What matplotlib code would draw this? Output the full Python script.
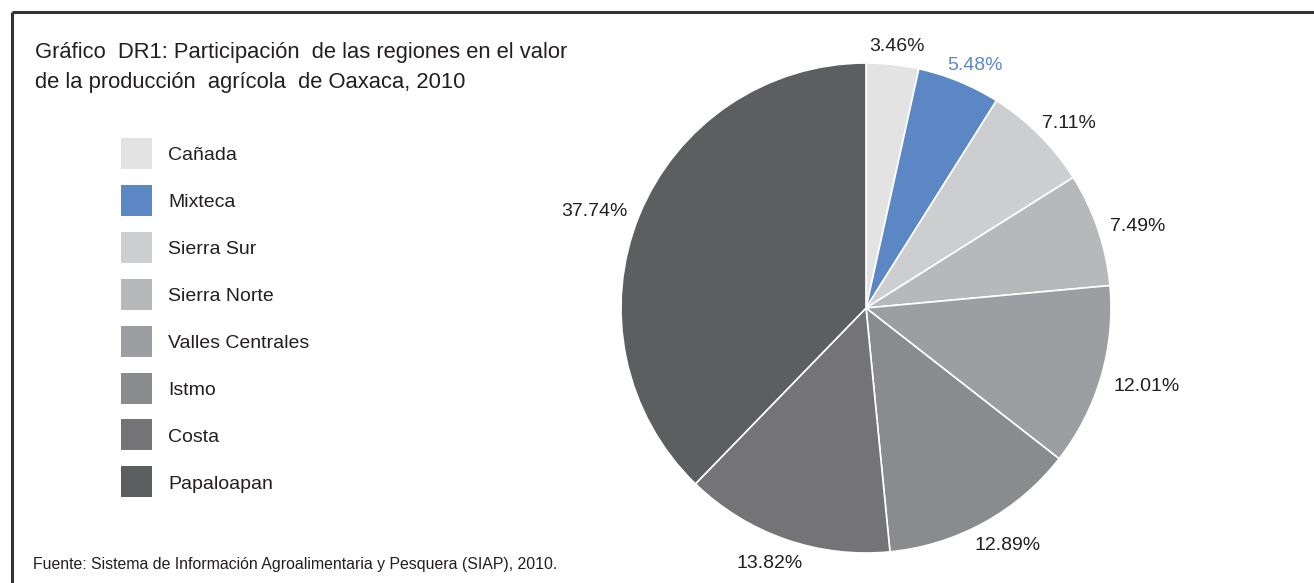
import numpy as np
import matplotlib.pyplot as plt
from matplotlib.patches import Rectangle

regiones = ['Cañada', 'Mixteca', 'Sierra Sur', 'Sierra Norte', 'Valles Centrales',
            'Istmo', 'Costa', 'Papaloapan']
porcentajes = [3.46, 5.48, 7.11, 7.49, 12.01, 12.89, 13.82, 37.74]
colores = ['#E3E3E3', '#5B87C5', '#CDCED0', '#B7B8BA', '#9D9EA1',
           '#8A8B8D', '#747476', '#5D5E60']
destacada = 'Mixteca'

titulo = ['Gráfico  DR1: Participación  de las regiones en el valor',
          'de la producción  agrícola  de Oaxaca, 2010']
fuente = 'Fuente: Sistema de Información Agroalimentaria y Pesquera (SIAP), 2010.'

plt.rcParams['font.family'] = ['Liberation Sans', 'DejaVu Sans']
texto = '#231F20'

W, H = 1314, 583
fig = plt.figure(figsize=(W / 100, H / 100), dpi=100)

# capa de fondo en pixeles para marco, titulo y leyenda
bg = fig.add_axes([0, 0, 1, 1])
bg.set_xlim(0, W)
bg.set_ylim(H, 0)
bg.axis('off')

bg.plot([12, W], [12, 12], color='#333333', lw=2.2, solid_capstyle='butt')
bg.plot([12, 12], [12, H], color='#333333', lw=2.2, solid_capstyle='butt')

for i, linea in enumerate(titulo):
    bg.text(35, 58 + i * 30, linea, fontsize=15.8, color=texto, va='baseline', ha='left')

for i, (reg, col) in enumerate(zip(regiones, colores)):
    y = 138 + i * 46.9
    bg.add_patch(Rectangle((121, y), 31, 31, facecolor=col, edgecolor='none'))
    bg.text(168, y + 18, reg, fontsize=14, color=texto, va='center', ha='left')

bg.text(33, 564, fuente, fontsize=11.4, color=texto, va='center', ha='left')

# pastel
cx, cy, r = 866, 308, 245
ax = fig.add_axes([(cx - r) / W, (H - cy - r) / H, 2 * r / W, 2 * r / H])
wedges, _ = ax.pie(
    porcentajes, colors=colores, startangle=90, counterclock=False,
    wedgeprops=dict(edgecolor='white', linewidth=1.2))
ax.set_xlim(-1, 1)
ax.set_ylim(-1, 1)
ax.set_aspect('equal')

# etiquetas fuera del pastel, con el borde cercano a cierta distancia
fig.canvas.draw()
rend = fig.canvas.get_renderer()
for w, p, reg, c in zip(wedges, porcentajes, regiones, colores):
    ang = np.deg2rad((w.theta1 + w.theta2) / 2)
    col = c if reg == destacada else texto
    t = ax.text(0, 0, f'{p:.2f}%', fontsize=14, color=col, ha='center', va='center',
                clip_on=False)
    bb = t.get_window_extent(rend)
    hw = bb.width / 2 / r
    hh = bb.height * 0.4 / r
    t.set_position((1.06 * np.cos(ang) + hw * np.cos(ang),
                    1.06 * np.sin(ang) + hh * np.sin(ang) - 0.015))

fig.savefig('out.png', dpi=100)
